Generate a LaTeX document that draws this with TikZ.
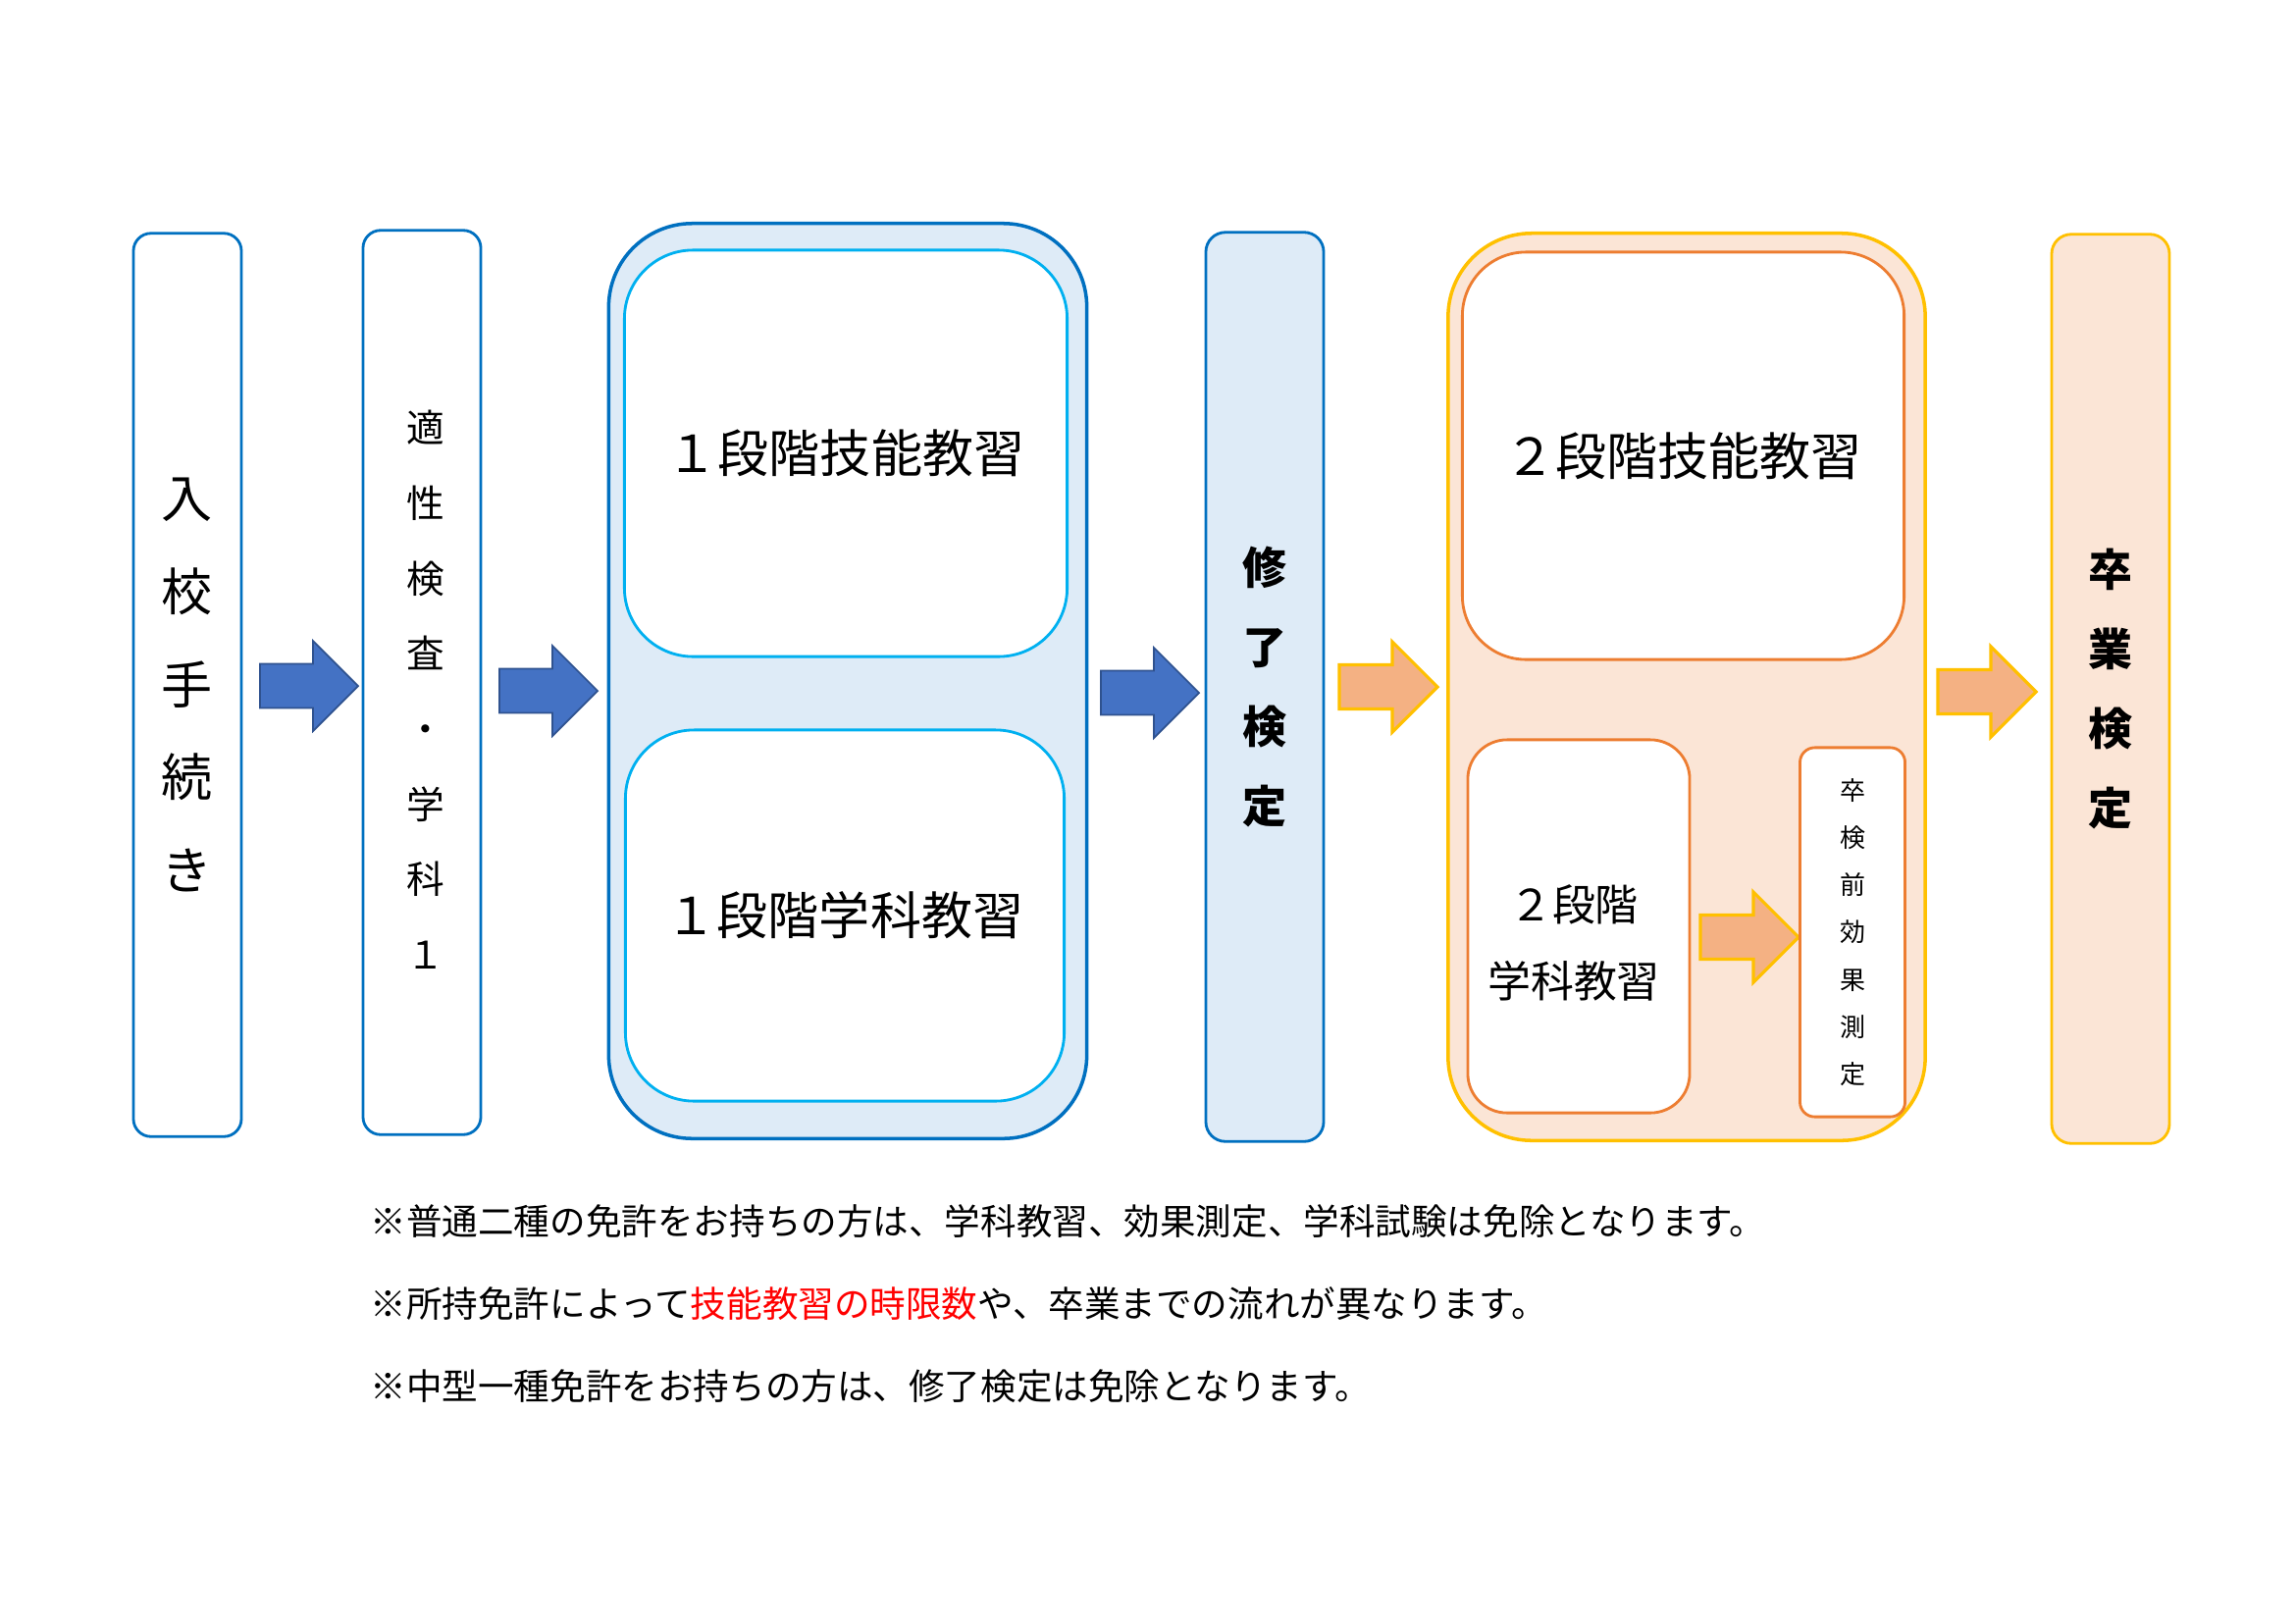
\documentclass[tikz,border=0pt]{standalone}
\usepackage{fontspec}
\setmainfont{Noto Sans CJK JP}
\definecolor{bstroke}{HTML}{0070C0}
\definecolor{bcyan}{HTML}{00B0F0}
\definecolor{bfill}{HTML}{DEEBF7}
\definecolor{ostroke}{HTML}{FFC000}
\definecolor{oinner}{HTML}{ED7D31}
\definecolor{ofill}{HTML}{FBE5D6}
\definecolor{arrowblue}{HTML}{4472C4}
\definecolor{arrowblueedge}{HTML}{2F528F}
\definecolor{arroworange}{HTML}{F4B183}
\tikzset{
  blockarrow/.pic={\path[pic actions] (0,-22.5) -- (54,-22.5) -- (54,-46) -- (100,0) -- (54,46) -- (54,22.5) -- (0,22.5) -- cycle;},
  barrow/.style={draw=arrowblueedge, fill=arrowblue, line width=0.5pt},
  oarrow/.style={draw=ostroke, fill=arroworange, line width=0.9pt, line join=miter},
  box/.style={draw, line width=0.8pt, inner sep=0pt, align=center},
  bluebox/.style={box, draw=bstroke, fill=white, rounded corners=0.18cm},
  bluefillbox/.style={box, draw=bstroke, fill=bfill, rounded corners=0.2cm},
  bigblue/.style={box, draw=bstroke, fill=bfill, rounded corners=0.85cm, line width=1pt},
  innerblue/.style={box, draw=bcyan, fill=white, rounded corners=0.7cm},
  bigorange/.style={box, draw=ostroke, fill=ofill, rounded corners=0.85cm, line width=1pt},
  innerorange/.style={box, draw=oinner, fill=white},
  orangefillbox/.style={box, draw=ostroke, fill=ofill, rounded corners=0.2cm},
  note/.style={anchor=west, inner sep=0pt, font=\fontsize{10.4}{12}\selectfont}
}
\begin{document}
\begin{tikzpicture}[x=0.01cm,y=-0.01cm]
\useasboundingbox (0,0) rectangle (2339,1654);
\fill[white] (0,0) rectangle (2339,1654);

% step 1
\node[bluebox, minimum width=1.10cm, minimum height=9.20cm,
      font=\fontsize{14.8}{27}\selectfont] (entry) at (191,698) {入\\校\\手\\続\\き};
\pic[barrow] (a1) at (265,699) {blockarrow};

% step 2
\node[bluebox, minimum width=1.20cm, minimum height=9.21cm] (apt) at (430,695.5) {};
\node[align=center, inner sep=0pt, font=\fontsize{11}{21.8}\selectfont] (aptlabel) at (434,703) {適\\性\\検\\査\\・\\学\\科\\１};
\pic[barrow] (a2) at (509,704) {blockarrow};

% stage 1
\node[bigblue, minimum width=4.87cm, minimum height=9.32cm] (stage1) at (864,694) {};
\node[innerblue, minimum width=4.51cm, minimum height=4.14cm,
      font=\fontsize{14.8}{18}\selectfont] (s1skill) at (862,462) {１段階技能教習};
\node[innerblue, minimum width=4.47cm, minimum height=3.78cm,
      font=\fontsize{14.8}{18}\selectfont] (s1study) at (861,933) {１段階学科教習};
\pic[barrow] (a3) at (1122,706) {blockarrow};

% shuryo kentei
\node[bluefillbox, minimum width=1.20cm, minimum height=9.26cm,
      font=\bfseries\fontsize{12.8}{23}\selectfont] (shuryo) at (1289,700) {修\\了\\検\\定};
\pic[oarrow] (a4) at (1365,700) {blockarrow};

% stage 2
\node[bigorange, minimum width=4.86cm, minimum height=9.24cm] (stage2) at (1719,700) {};
\node[innerorange, rounded corners=0.65cm, minimum width=4.50cm, minimum height=4.15cm,
      font=\fontsize{14.8}{18}\selectfont] (s2skill) at (1715.5,464.5) {２段階技能教習};
\node[innerorange, rounded corners=0.4cm, minimum width=2.26cm, minimum height=3.80cm] (s2study) at (1609,944) {};
\node[align=center, inner sep=0pt, font=\fontsize{12.5}{22.2}\selectfont] (s2studylabel) at (1604,961) {２段階\\学科教習};
\pic[oarrow] (a6) at (1733,955) {blockarrow};
\node[innerorange, rounded corners=0.15cm, minimum width=1.07cm, minimum height=3.76cm,
      font=\fontsize{7.4}{13.7}\selectfont] (kouka) at (1888,950) {卒\\検\\前\\効\\果\\測\\定};
\pic[oarrow] (a5) at (1975,705) {blockarrow};

% sotsugyo kentei
\node[orangefillbox, minimum width=1.20cm, minimum height=9.26cm,
      font=\bfseries\fontsize{12.8}{23}\selectfont] (sotsu) at (2151,702) {卒\\業\\検\\定};

% notes
\node[note] (n1) at (377,1245) {※普通二種の免許をお持ちの方は、学科教習、効果測定、学科試験は免除となります。};
\node[note] (n2) at (377,1329) {※所持免許によって\textcolor{red}{技能教習の時限数}や、卒業までの流れが異なります。};
\node[note] (n3) at (377,1413) {※中型一種免許をお持ちの方は、修了検定は免除となります。};
\end{tikzpicture}
\end{document}
